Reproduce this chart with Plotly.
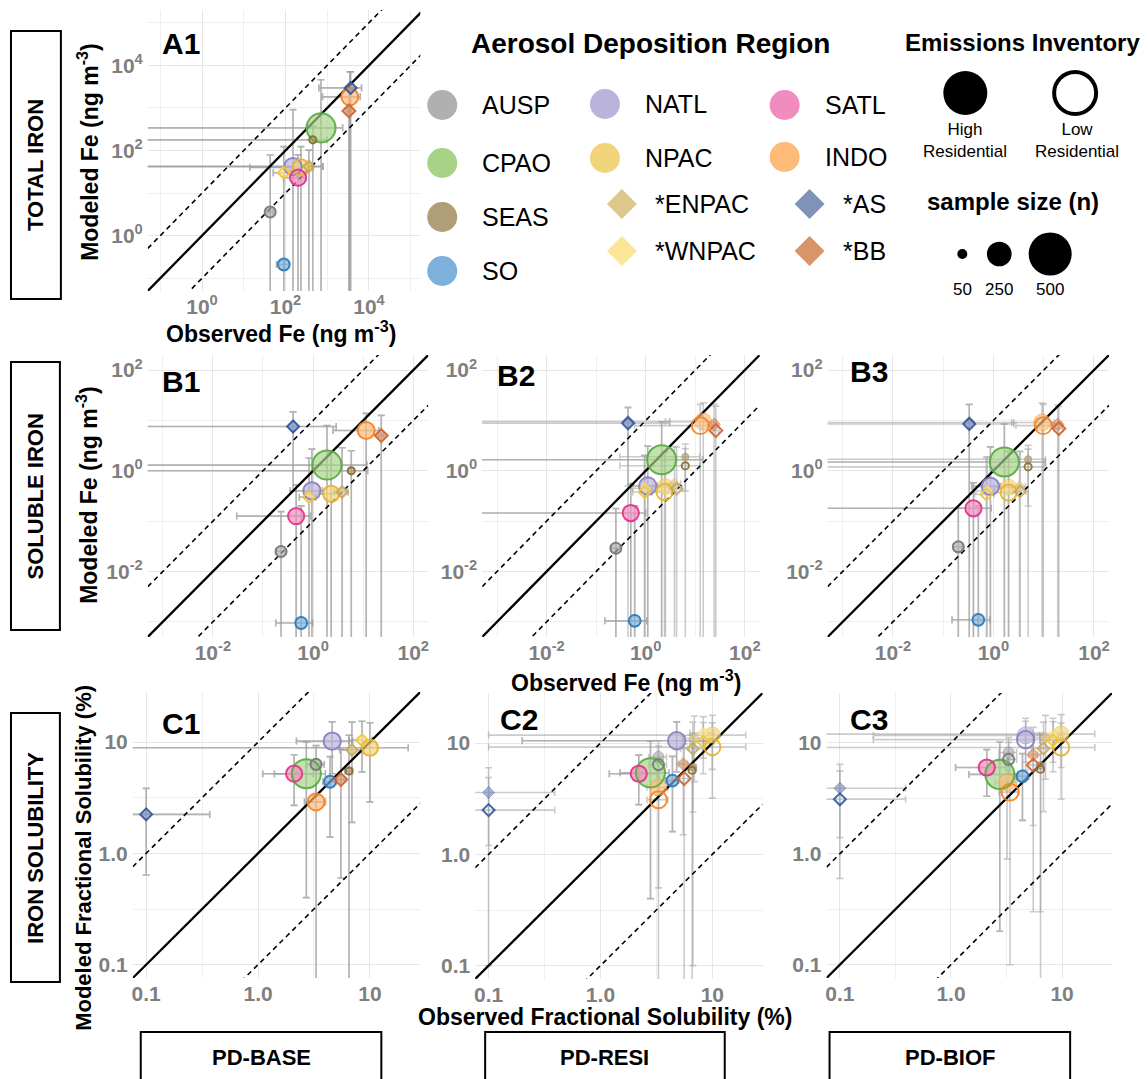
import plotly.graph_objects as go

W, H = 1148, 1079

# ---------------- data ----------------
REGIONS = ["AUSP", "CPAO", "SEAS", "SO", "NATL", "NPAC", "*ENPAC", "*WNPAC", "SATL", "INDO", "*AS", "*BB"]
SAMPLE_N = [65, 310, 12, 75, 150, 135, 35, 40, 135, 145, 40, 50]

# A1 total iron (ng m-3)
A1_OBS = [43, 710, 450, 91, 151, 234, 363, 91, 200, 3470, 3630, 3300]
A1_MOD = [3.6, 340, 178, 0.21, 42, 40, 42, 30, 23, 1820, 2950, 850]
A1_OBS_SD = [8, 1630, 520, 30, 630, 220, 420, 40, 110, 2700, 3000, 300]
A1_MOD_SD = [75, 4260, 200, 0.05, 870, 83, 60, 93, 56, 5260, 4100, 2000]

# B1 soluble iron, PD-BASE
B1_OBS = [0.23, 1.9, 5.8, 0.58, 0.95, 2.3, 3.8, 0.83, 0.46, 11.5, 0.40, 23]
B1_MOD = [0.025, 1.3, 1.0, 0.00095, 0.40, 0.35, 0.38, 0.30, 0.126, 6.3, 7.6, 5.0]
B1_OBS_SD = [0.05, 10, 6.5, 0.4, 0.6, 1.0, 1.2, 0.3, 0.43, 9, 2.5, 3]
B1_MOD_SD = [0.13, 6.6, 1.5, 0.2, 2.3, 2.0, 2.5, 1.5, 0.4, 7.5, 7.2, 7.6]

# B2 soluble iron, PD-RESI (high / low residential)
B2_OBS_HI = [0.25, 2.1, 6.3, 0.6, 1.1, 2.5, 3.8, 0.95, 0.5, 14.5, 0.44, 24]
B2_MOD_HI = [0.029, 1.66, 1.9, 0.00105, 0.5, 0.48, 0.55, 0.45, 0.145, 9.5, 9.5, 8.3]
B2_OBS_LO = [0.25, 2.1, 6.3, 0.6, 1.1, 2.4, 4.2, 0.95, 0.5, 12.6, 0.44, 26]
B2_MOD_LO = [0.029, 1.66, 1.26, 0.00105, 0.5, 0.38, 0.44, 0.38, 0.145, 7.9, 8.8, 6.3]
B2_OBS_SD = [0.05, 12, 6, 0.45, 0.6, 1.1, 1.3, 0.4, 0.5, 12, 2.6, 4]
B2_MOD_SD = [0.15, 7.8, 1.5, 0.2, 2.6, 2.0, 2.5, 1.6, 0.4, 13, 9, 13]

# B3 soluble iron, PD-BIOF
B3_OBS_HI = [0.2, 1.65, 4.9, 0.5, 0.87, 2.0, 3.3, 0.75, 0.4, 9.3, 0.33, 19]
B3_MOD_HI = [0.031, 1.5, 1.7, 0.0011, 0.49, 0.47, 0.48, 0.40, 0.18, 9.1, 9.1, 8.3]
B3_OBS_LO = [0.2, 1.65, 4.9, 0.5, 0.87, 2.0, 3.4, 0.72, 0.4, 9.8, 0.33, 20]
B3_MOD_LO = [0.031, 1.5, 1.2, 0.0011, 0.49, 0.37, 0.39, 0.34, 0.18, 7.9, 8.5, 6.9]
B3_OBS_SD = [0.04, 9, 6, 0.35, 0.5, 1.0, 1.0, 0.3, 0.5, 7, 2.2, 4]
B3_MOD_SD = [0.15, 7, 1.5, 0.2, 2.5, 2.0, 2.0, 1.5, 0.4, 13, 12, 12]

# C1 iron solubility (%), PD-BASE
C1_OBS = [3.3, 2.7, 6.5, 4.4, 4.6, 10, 6.9, 8.5, 2.1, 3.3, 0.1, 5.5]
C1_MOD = [6.3, 5.2, 5.5, 4.4, 10.2, 8.9, 8.5, 10.4, 5.2, 2.9, 2.24, 4.6]
C1_OBS_SD = [0.6, 1.3, 0.5, 0.6, 2.4, 12, 1.5, 2, 1.0, 0.7, 0.27, 0.5]
C1_MOD_SD = [3, 4.8, 6, 3, 5, 6, 6.6, 5, 2.5, 3.5, 1.6, 4]

# C2 iron solubility (%), PD-RESI
C2_OBS_HI = [3.3, 2.8, 6.7, 4.4, 4.8, 10, 6.9, 8.3, 2.2, 3.3, 0.1, 5.5]
C2_MOD_HI = [7.5, 5.4, 6.1, 4.6, 10.5, 11.8, 11, 12.3, 5.3, 4.0, 3.6, 6.5]
C2_OBS_LO = [3.3, 2.8, 6.6, 4.4, 4.8, 10, 6.7, 8.3, 2.2, 3.3, 0.1, 5.6]
C2_MOD_LO = [6.4, 5.4, 5.7, 4.6, 10.5, 9.2, 8.9, 10.3, 5.3, 3.1, 2.5, 4.8]
C2_OBS_SD = [0.6, 1.3, 0.5, 0.6, 4.6, 9.9, 1.5, 2, 1.0, 0.7, 0.29, 0.5]
C2_MOD_SD = [3, 5, 6, 3, 5, 6, 6.5, 5, 2.5, 3.5, 2.4, 5]

# C3 iron solubility (%), PD-BIOF
C3_OBS_HI = [3.3, 2.75, 6.4, 4.4, 4.7, 9.8, 7.1, 8.3, 2.1, 3.2, 0.1, 5.5]
C3_MOD_HI = [8.2, 5.2, 6.3, 5.0, 11.7, 12, 11.2, 11.7, 6.0, 4.4, 3.9, 7.8]
C3_OBS_LO = [3.3, 2.75, 6.4, 4.4, 4.7, 9.8, 6.8, 8.3, 2.1, 3.4, 0.1, 5.5]
C3_MOD_LO = [7.1, 5.2, 5.8, 5.0, 10.7, 9.1, 8.9, 10.5, 6.0, 3.6, 3.1, 6.3]
C3_OBS_SD = [0.6, 1.3, 0.5, 0.6, 4.5, 9.9, 1.5, 2, 1.0, 0.7, 0.29, 0.5]
C3_MOD_SD = [3, 5, 6, 3, 5, 6, 6.5, 5, 2.7, 3.5, 2.5, 6]

SIZE_LEGEND_N = [50, 250, 500]

# ---------------- styles ----------------
FILL = ["#b0b0b0", "#a7d387", "#b09e78", "#7db0da", "#bab4dc", "#f2d47a",
        "#dcc78c", "#fbe597", "#f08cbe", "#fdba78", "#8192b8", "#d99468"]
EDGE = ["#777777", "#57ad3f", "#8c6d31", "#2b7bba", "#8a7fc0", "#e8b32a",
        "#c9a95c", "#f3c535", "#e5318b", "#f5821f", "#2f58a0", "#d2642c"]
FONT = "Liberation Sans, Arial, sans-serif"
TICKFONT = dict(family=FONT, size=21, color="#7f7f7f", weight="bold")
GRID = "#e6e6e6"
GRID_MINOR = "#efefef"
ERR_COLOR = "rgba(160,160,160,0.55)"


def rgba(h, a):
    h = h.lstrip("#")
    return f"rgba({int(h[0:2],16)},{int(h[2:4],16)},{int(h[4:6],16)},{a})"


def size_of(n):
    return 6.3 + 0.0735 * n


def sym(r):
    return "diamond" if r.startswith("*") else "circle"


SCALES = {
    "A": dict(rng=(-1.3, 5.3), major=[1, 1e2, 1e4],
              labels=["10<sup>0</sup>", "10<sup>2</sup>", "10<sup>4</sup>"],
              minor=[1e-1, 1e1, 1e3, 1e5]),
    "B": dict(rng=(-3.3, 2.3), major=[1e-2, 1, 1e2],
              labels=["10<sup>-2</sup>", "10<sup>0</sup>", "10<sup>2</sup>"],
              minor=[1e-3, 1e-1, 1e1]),
    "C": dict(rng=(-1.12, 1.45), major=[0.1, 1, 10],
              labels=["0.1", "1.0", "10"],
              minor=[10 ** -0.5, 10 ** 0.5, 10 ** 1.5]),
}

PANELS = [
    ("A1", (147, 423, 10, 291), "A", A1_OBS, A1_MOD, A1_OBS, A1_MOD, A1_OBS_SD, A1_MOD_SD),
    ("B1", (147, 428, 355, 637), "B", B1_OBS, B1_MOD, B1_OBS, B1_MOD, B1_OBS_SD, B1_MOD_SD),
    ("B2", (482, 760, 355, 637), "B", B2_OBS_HI, B2_MOD_HI, B2_OBS_LO, B2_MOD_LO, B2_OBS_SD, B2_MOD_SD),
    ("B3", (828, 1110, 355, 637), "B", B3_OBS_HI, B3_MOD_HI, B3_OBS_LO, B3_MOD_LO, B3_OBS_SD, B3_MOD_SD),
    ("C1", (132, 420, 692, 978), "C", C1_OBS, C1_MOD, C1_OBS, C1_MOD, C1_OBS_SD, C1_MOD_SD),
    ("C2", (475, 763, 693, 979), "C", C2_OBS_HI, C2_MOD_HI, C2_OBS_LO, C2_MOD_LO, C2_OBS_SD, C2_MOD_SD),
    ("C3", (827, 1113, 693, 978), "C", C3_OBS_HI, C3_MOD_HI, C3_OBS_LO, C3_MOD_LO, C3_OBS_SD, C3_MOD_SD),
]
LETTER_POS = {"A1": (159, 44), "B1": (159, 381), "B2": (495, 376), "B3": (848, 372),
              "C1": (159, 723), "C2": (498, 719), "C3": (848, 719)}

fig = go.Figure()
annotations = []
shapes = []


def P(x, y):
    return x / W, 1 - y / H


def ann(text, x, y, size, bold=False, color="black", xanchor="center", yanchor="middle", angle=0):
    px, py = P(x, y)
    annotations.append(dict(text=text, x=px, y=py, xref="paper", yref="paper", showarrow=False,
                            xanchor=xanchor, yanchor=yanchor, textangle=angle,
                            font=dict(family=FONT, size=size, color=color,
                                      weight="bold" if bold else "normal")))


order = sorted(range(len(REGIONS)), key=lambda j: -SAMPLE_N[j])

for i, (name, (x0, x1, y0, y1), sc, oh, mh, ol, ml, osd, msd) in enumerate(PANELS, start=1):
    s = SCALES[sc]
    suf = "" if i == 1 else str(i)
    common = dict(type="log", range=list(s["rng"]), tickmode="array", tickvals=s["major"],
                  ticktext=s["labels"], tickfont=TICKFONT, showgrid=True, gridcolor=GRID,
                  gridwidth=1, zeroline=False, showline=False, ticks="",
                  minor=dict(tickmode="array", tickvals=s["minor"], showgrid=True,
                             gridcolor=GRID_MINOR, gridwidth=1),
                  fixedrange=True)
    fig.update_layout(**{
        f"xaxis{suf}": dict(domain=[x0 / W, x1 / W], anchor=f"y{suf}", ticklabelstandoff=1, **common),
        f"yaxis{suf}": dict(domain=[1 - y1 / H, 1 - y0 / H], anchor=f"x{suf}", ticklabelstandoff=4, **common),
    })
    xa, ya = f"x{suf}", f"y{suf}"

    # error bars (drawn first, beneath everything)
    for ox, my in ((oh, mh), (ol, ml)):
        fig.add_trace(go.Scatter(
            x=ox, y=my, mode="markers", xaxis=xa, yaxis=ya, hoverinfo="skip", showlegend=False,
            marker=dict(size=2, color="rgba(0,0,0,0)"),
            error_x=dict(type="data", array=osd, symmetric=True, color=ERR_COLOR, thickness=1.6, width=3.5),
            error_y=dict(type="data", array=msd, symmetric=True, color=ERR_COLOR, thickness=1.6, width=3.5)))

    # 1:1 and factor-of-10 lines
    lo, hi = s["rng"]
    xs = [10 ** lo, 10 ** hi]
    for k, dash, wd in ((0, "solid", 2.3), (1, "5px,4px", 1.6), (-1, "5px,4px", 1.6)):
        fig.add_trace(go.Scatter(x=xs, y=[v * 10 ** k for v in xs], mode="lines", xaxis=xa, yaxis=ya,
                                 hoverinfo="skip", showlegend=False,
                                 line=dict(color="black", width=wd, dash=dash)))

    # high residential (filled)
    fig.add_trace(go.Scatter(
        x=[oh[j] for j in order], y=[mh[j] for j in order], mode="markers", xaxis=xa, yaxis=ya,
        hoverinfo="skip", showlegend=False,
        marker=dict(size=[size_of(SAMPLE_N[j]) for j in order], opacity=1,
                    symbol=[sym(REGIONS[j]) for j in order],
                    color=[rgba(FILL[j], 0.68) for j in order],
                    line=dict(color=[rgba(EDGE[j], 0.4) for j in order], width=1))))
    # low residential (open)
    fig.add_trace(go.Scatter(
        x=[ol[j] for j in order], y=[ml[j] for j in order], mode="markers", xaxis=xa, yaxis=ya,
        hoverinfo="skip", showlegend=False,
        marker=dict(size=[size_of(SAMPLE_N[j]) for j in order], opacity=1,
                    symbol=[sym(REGIONS[j]) for j in order],
                    color="rgba(0,0,0,0)",
                    line=dict(color=[rgba(EDGE[j], 0.9) for j in order], width=2))))

    lx, ly = LETTER_POS[name]
    ann(name, lx, ly, 30, bold=True, xanchor="left")

# ---------------- legend area (pixel-coordinate axes) ----------------
fig.update_layout(
    xaxis8=dict(domain=[420 / W, 1], range=[420, 1148], visible=False, fixedrange=True, anchor="y8"),
    yaxis8=dict(domain=[1 - 310 / H, 1], range=[310, 0], visible=False, fixedrange=True, anchor="x8"),
)
LEG = {
    "AUSP": (442, 105, 480), "CPAO": (442, 163, 480), "SEAS": (442, 217, 480), "SO": (442, 271, 480),
    "NATL": (605, 104, 643), "NPAC": (605, 158, 643), "*ENPAC": (622, 204, 653), "*WNPAC": (622, 251, 653),
    "SATL": (785, 105, 823), "INDO": (785, 157, 823), "*AS": (810, 204, 841), "*BB": (810, 251, 841),
}
fig.add_trace(go.Scatter(
    x=[LEG[r][0] for r in REGIONS], y=[LEG[r][1] for r in REGIONS], mode="markers",
    xaxis="x8", yaxis="y8", hoverinfo="skip", showlegend=False,
    marker=dict(size=[23 if r.startswith("*") else 30 for r in REGIONS], opacity=1,
                symbol=[sym(r) for r in REGIONS], color=FILL, line=dict(width=0))))
for r in REGIONS:
    ann(r, LEG[r][2], LEG[r][1], 25, xanchor="left")
ann("Aerosol Deposition Region", 651, 43, 28, bold=True)

# emissions inventory
fig.add_trace(go.Scatter(x=[966], y=[93], mode="markers", xaxis="x8", yaxis="y8", hoverinfo="skip",
                         showlegend=False, marker=dict(size=44, color="black", opacity=1, line=dict(width=0))))
fig.add_trace(go.Scatter(x=[1076], y=[93], mode="markers", xaxis="x8", yaxis="y8", hoverinfo="skip",
                         showlegend=False, marker=dict(size=42, color="rgba(0,0,0,0)", opacity=1,
                                                       line=dict(color="black", width=4))))
ann("Emissions Inventory", 1023, 42, 24, bold=True)
ann("High<br>Residential", 966, 141, 17)
ann("Low<br>Residential", 1078, 141, 17)

# sample size legend
SIZE_X = [963, 1000, 1051]
fig.add_trace(go.Scatter(x=SIZE_X, y=[254] * 3, mode="markers", xaxis="x8", yaxis="y8", hoverinfo="skip",
                         showlegend=False,
                         marker=dict(size=[size_of(n) for n in SIZE_LEGEND_N], color="black", opacity=1,
                                     line=dict(width=0))))
ann("sample size (n)", 1014, 202, 24, bold=True)
for n, x in zip(SIZE_LEGEND_N, SIZE_X):
    ann(str(n), x, 290, 17)

# ---------------- axis titles ----------------
ann("Modeled Fe (ng m<sup>-3</sup>)", 87, 152, 23, bold=True, angle=-90)
ann("Observed Fe (ng m<sup>-3</sup>)", 280, 332, 23, bold=True)
ann("Modeled Fe (ng m<sup>-3</sup>)", 86, 495, 23, bold=True, angle=-90)
ann("Observed Fe (ng m<sup>-3</sup>)", 626, 681, 23, bold=True)
ann("Modeled Fractional Solubility (%)", 82, 858, 22, bold=True, angle=-90)
ann("Observed Fractional Solubility (%)", 605, 1017, 23, bold=True)

# ---------------- row / column label boxes ----------------
ROW_BOXES = [("TOTAL IRON", (10, 31, 60, 299)), ("SOLUBLE IRON", (10, 362, 59, 630)),
             ("IRON SOLUBILITY", (10, 713, 59, 982))]
for txt, (bx0, by0, bx1, by1) in ROW_BOXES:
    (a, b), (c, d) = P(bx0, by0), P(bx1, by1)
    shapes.append(dict(type="rect", xref="paper", yref="paper", x0=a, x1=c, y0=d, y1=b,
                       line=dict(color="black", width=2), fillcolor="rgba(0,0,0,0)"))
    ann(txt, (bx0 + bx1) / 2, (by0 + by1) / 2, 22, bold=True, angle=-90)

COL_BOXES = [("PD-BASE", (140, 1032, 381, 1085)), ("PD-RESI", (485, 1032, 725, 1085)),
             ("PD-BIOF", (830, 1032, 1071, 1085))]
for txt, (bx0, by0, bx1, by1) in COL_BOXES:
    (a, b), (c, d) = P(bx0, by0), P(bx1, by1)
    shapes.append(dict(type="rect", xref="paper", yref="paper", x0=a, x1=c, y0=d, y1=b,
                       line=dict(color="black", width=2), fillcolor="rgba(0,0,0,0)"))
    ann(txt, (bx0 + bx1) / 2, 1057, 22, bold=True)

fig.update_layout(width=W, height=H, margin=dict(l=0, r=0, t=0, b=0), autosize=False,
                  paper_bgcolor="white", plot_bgcolor="white", showlegend=False,
                  annotations=annotations, shapes=shapes, font=dict(family=FONT))

fig.write_html("out.html", config={"displayModeBar": False},
               post_script="document.body.style.margin='0px';document.body.style.padding='0px';"
                           "document.documentElement.style.overflow='hidden';")
